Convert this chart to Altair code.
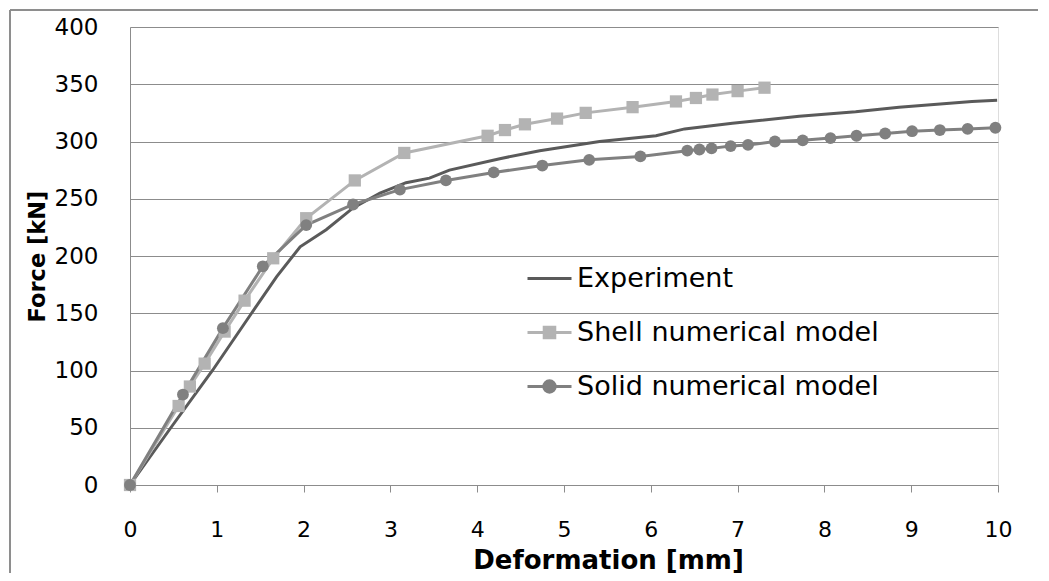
import altair as alt
import pandas as pd

# ---- data ----
exp_x = [0, 0.47, 0.95, 1.40, 1.69, 1.96, 2.26, 2.57, 2.88, 3.18, 3.45, 3.68, 4.26, 4.72,
         5.41, 6.06, 6.39, 6.94, 7.71, 8.36, 8.86, 9.70, 9.99]
exp_y = [0, 50, 100, 150, 182, 208, 223, 242, 255, 264, 268, 275, 285, 292,
         300, 305, 311, 316, 322, 326, 330, 335, 336]

shell_x = [0, 0.56, 0.69, 0.86, 1.09, 1.32, 1.65, 2.03, 2.59, 3.16, 4.12, 4.32, 4.55,
           4.92, 5.25, 5.79, 6.29, 6.52, 6.71, 7.00, 7.31]
shell_y = [0, 69, 86, 106, 134, 161, 198, 233, 266, 290, 305, 310, 315,
           320, 325, 330, 335, 338, 341, 344, 347]

solid_x = [0, 0.61, 1.07, 1.53, 2.03, 2.57, 3.11, 3.64, 4.19, 4.75, 5.29, 5.88, 6.42,
           6.56, 6.70, 6.92, 7.12, 7.43, 7.75, 8.07, 8.37, 8.70, 9.01, 9.33, 9.65, 9.97]
solid_y = [0, 79, 137, 191, 227, 245, 258, 266, 273, 279, 284, 287, 292,
           293, 294, 296, 297, 300, 301, 303, 305, 307, 309, 310, 311, 312]

series_names = ["Experiment", "Shell numerical model", "Solid numerical model"]
series_colors = ["#5a5a5a", "#b3b3b3", "#808080"]
legend_shapes = [
    "M-1,0H1",
    "M-1,0H1M-0.24,-0.24H0.24V0.24H-0.24Z",
    "M-1,0H1M0.26,0A0.26,0.26 0 1,1 -0.26,0A0.26,0.26 0 1,1 0.26,0Z",
]
x_ticks = list(range(0, 11))
y_ticks = list(range(0, 401, 50))

FONT = "DejaVu Sans"
GRID = "#8c8c8c"

df = pd.concat([
    pd.DataFrame({"d": exp_x, "F": exp_y, "series": series_names[0]}),
    pd.DataFrame({"d": shell_x, "F": shell_y, "series": series_names[1]}),
    pd.DataFrame({"d": solid_x, "F": solid_y, "series": series_names[2]}),
])
df_shell = df[df.series == series_names[1]]
df_solid = df[df.series == series_names[2]]
df_leg = pd.DataFrame({"series": series_names})

xenc = alt.X("d:Q", scale=alt.Scale(domain=[0, 10], nice=False),
             axis=alt.Axis(values=x_ticks, format="d", title="Deformation [mm]", grid=False,
                           tickSize=7, tickColor=GRID, domainColor=GRID,
                           labelFontSize=22, labelPadding=27, labelColor="#000",
                           titleFontSize=26, titleFontWeight="bold", titleColor="#000",
                           titleX=478, titleY=83, titleBaseline="alphabetic",
                           labelFont=FONT, titleFont=FONT, labelFlush=False))
yenc = alt.Y("F:Q", scale=alt.Scale(domain=[0, 400], nice=False),
             axis=alt.Axis(values=y_ticks, title="Force [kN]", grid=True,
                           gridColor=GRID, gridWidth=1, ticks=False,
                           domainColor=GRID, labelFontSize=23, labelPadding=32,
                           labelColor="#000", titleFontSize=22.5, titleFontWeight="bold",
                           titleColor="#000", titleX=-93, titleY=229, titleAngle=270,
                           titleBaseline="middle", labelFont=FONT, titleFont=FONT,
                           labelFlush=False))

lines = alt.Chart(df).mark_line(strokeWidth=3).encode(
    x=xenc, y=yenc,
    color=alt.Color("series:N", scale=alt.Scale(domain=series_names, range=series_colors),
                    legend=None),
)
shell_pts = alt.Chart(df_shell).mark_point(shape="square", filled=True, size=150, opacity=1,
                                           color=series_colors[1]).encode(x="d:Q", y="F:Q")
solid_pts = alt.Chart(df_solid).mark_point(shape="circle", filled=True, size=140, opacity=1,
                                           color=series_colors[2]).encode(x="d:Q", y="F:Q")

leg = alt.Legend(title=None, orient="none", legendX=396, legendY=228,
                 labelFontSize=27, labelFont=FONT, labelColor="#000", labelOffset=4,
                 symbolSize=1936, symbolStrokeWidth=3, rowPadding=17, labelLimit=500)
legend_layer = alt.Chart(df_leg).mark_point(opacity=1, filled=True).encode(
    x=alt.value(-500), y=alt.value(-500),
    fill=alt.Fill("series:N", scale=alt.Scale(domain=series_names, range=series_colors), legend=leg),
    stroke=alt.Stroke("series:N", scale=alt.Scale(domain=series_names, range=series_colors), legend=leg),
    shape=alt.Shape("series:N", scale=alt.Scale(domain=series_names, range=legend_shapes), legend=leg),
)

frame_top = alt.Chart(df_leg).mark_rule(color=GRID, strokeWidth=1.5).encode(
    x=alt.value(-120), x2=alt.value(1000), y=alt.value(-17))
frame_left = alt.Chart(df_leg).mark_rule(color=GRID, strokeWidth=1.5).encode(
    x=alt.value(-120), y=alt.value(-17), y2=alt.value(700))

chart = alt.layer(frame_top, frame_left, lines, shell_pts, solid_pts, legend_layer).resolve_scale(
    fill="independent", stroke="independent", shape="independent", color="independent"
).properties(
    width=868, height=458,
    autosize=alt.AutoSizeParams(type="none"),
    padding={"left": 122, "top": 19, "right": 40, "bottom": 88},
).configure_view(stroke=None).configure(background="white")

chart.save("out.html", embed_options={"renderer": "svg", "actions": False})
